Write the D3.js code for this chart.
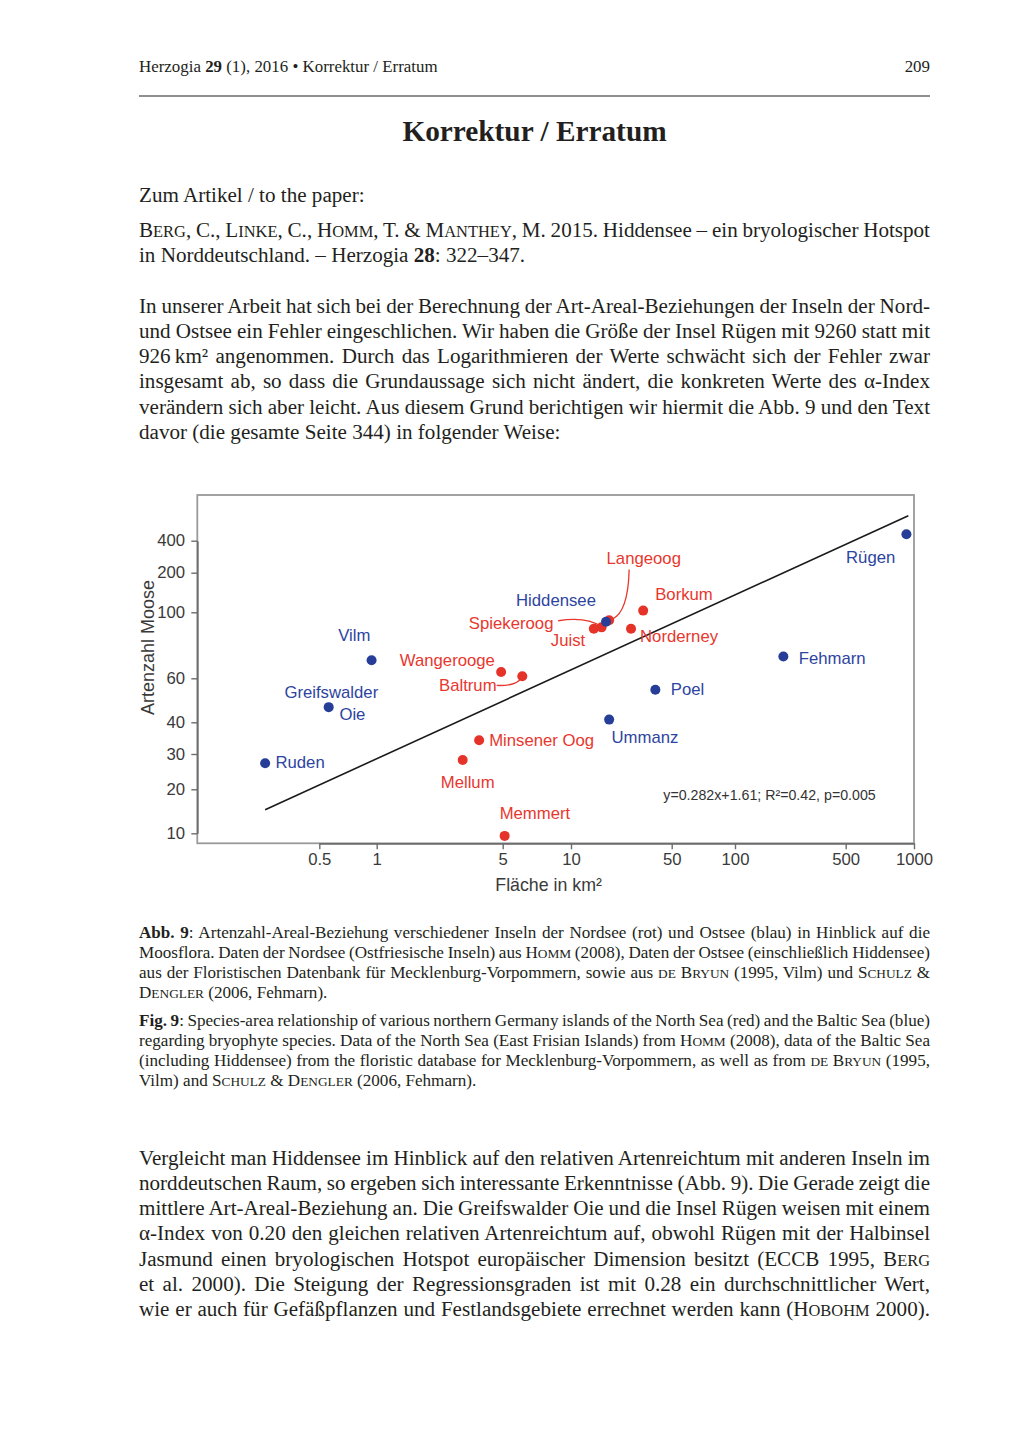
<!DOCTYPE html>
<html><head><meta charset="utf-8">
<script src="https://cdn.jsdelivr.net/npm/d3@7"></script>
<style>html,body{margin:0;padding:0;background:#fff;} svg{display:block}</style>
</head><body>
<script>
// ================= DATA =================
const islands = ["Ruden","Greifswalder Oie","Vilm","Mellum","Minsener Oog","Wangerooge","Memmert","Baltrum","Juist","Spiekeroog","Langeoog","Hiddensee","Ummanz","Norderney","Borkum","Poel","Fehmarn","Rügen"];
const sea = ["Ostsee","Ostsee","Ostsee","Nordsee","Nordsee","Nordsee","Nordsee","Nordsee","Nordsee","Nordsee","Nordsee","Ostsee","Ostsee","Nordsee","Nordsee","Ostsee","Ostsee","Ostsee"];
const areaKm2 = [0.26,0.56,0.94,3.0,3.7,4.9,5.1,6.1,14.4,16.3,18.4,17.5,18.4,26.1,31.7,38.5,202,926];
const mossSpecies = [27,46,69,28,34,63,9.6,61,88,89,94,93,41,88,103,54,71,460];
const xTicks = [0.5,1,5,10,50,100,500,1000];
const yTicks = [10,20,30,40,60,100,200,400];
const regLineX = [0.26, 944];
const regLineY = [14.5, 687];
const equation = "y=0.282x+1.61; R²=0.42, p=0.005";
const xTitle = "Fläche in km²";
const yTitle = "Artenzahl Moose";

// page texts (markup: **bold**, ^^small caps^^)
const headerLeft = "Herzogia **29** (1), 2016 • Korrektur / Erratum";
const headerRight = "209";
const title = "Korrektur / Erratum";
const refLines = [
  ["Zum Artikel / to the paper:", false],
  ["^^Berg^^, C., ^^Linke^^, C., ^^Homm^^, T. & ^^Manthey^^, M. 2015. Hiddensee – ein bryologischer Hotspot", true],
  ["in Norddeutschland. – Herzogia **28**: 322–347.", false]
];
const para2 = [
  ["In unserer Arbeit hat sich bei der Berechnung der Art-Areal-Beziehungen der Inseln der Nord-", true],
  ["und Ostsee ein Fehler eingeschlichen. Wir haben die Größe der Insel Rügen mit 9260 statt mit", true],
  ["926\u2009km² angenommen. Durch das Logarithmieren der Werte schwächt sich der Fehler zwar", true],
  ["insgesamt ab, so dass die Grundaussage sich nicht ändert, die konkreten Werte des α-Index", true],
  ["verändern sich aber leicht. Aus diesem Grund berichtigen wir hiermit die Abb. 9 und den Text", true],
  ["davor (die gesamte Seite 344) in folgender Weise:", false]
];
const captionDe = [
  ["**Abb. 9**: Artenzahl-Areal-Beziehung verschiedener Inseln der Nordsee (rot) und Ostsee (blau) in Hinblick auf die", true],
  ["Moosflora. Daten der Nordsee (Ostfriesische Inseln) aus ^^Homm^^ (2008), Daten der Ostsee (einschließlich Hiddensee)", true],
  ["aus der Floristischen Datenbank für Mecklenburg-Vorpommern, sowie aus ^^de Bryun^^ (1995, Vilm) und ^^Schulz^^ &", true],
  ["^^Dengler^^ (2006, Fehmarn).", false]
];
const captionEn = [
  ["**Fig. 9**: Species-area relationship of various northern Germany islands of the North Sea (red) and the Baltic Sea (blue)", true],
  ["regarding bryophyte species. Data of the North Sea (East Frisian Islands) from ^^Homm^^ (2008), data of the Baltic Sea", true],
  ["(including Hiddensee) from the floristic database for Mecklenburg-Vorpommern, as well as from ^^de Bryun^^ (1995,", true],
  ["Vilm) and ^^Schulz^^ & ^^Dengler^^ (2006, Fehmarn).", false]
];
const paraFinal = [
  ["Vergleicht man Hiddensee im Hinblick auf den relativen Artenreichtum mit anderen Inseln im", true],
  ["norddeutschen Raum, so ergeben sich interessante Erkenntnisse (Abb. 9). Die Gerade zeigt die", true],
  ["mittlere Art-Areal-Beziehung an. Die Greifswalder Oie und die Insel Rügen weisen mit einem", true],
  ["α-Index von 0.20 den gleichen relativen Artenreichtum auf, obwohl Rügen mit der Halbinsel", true],
  ["Jasmund einen bryologischen Hotspot europäischer Dimension besitzt (ECCB 1995, ^^Berg^^", true],
  ["et al. 2000). Die Steigung der Regressionsgraden ist mit 0.28 ein durchschnittlicher Wert,", true],
  ["wie er auch für Gefäßpflanzen und Festlandsgebiete errechnet werden kann (^^Hobohm^^ 2000).", true]
];

// ================= LAYOUT =================
const W = 1020, H = 1439;
const marginL = 139, marginR = 930, textW = marginR - marginL;
const serif = "'Liberation Serif','Times New Roman',serif";
const sans = "'Liberation Sans',Arial,sans-serif";
const RED = "#e6332a", BLUE = "#263e98", RED_T = "#e8372e", BLUE_T = "#2d44a0";
const labelScaleX = 1.045, labelSize = 16;
const bodySize = 21.1, capSize = 17.1, hdrSize = 16.9;

const labelLayout = {
  "Ruden": [{t:"Ruden", dx:10.3, dy:4.9}],
  "Greifswalder Oie": [{t:"Greifswalder", dx:-44.3, dy:-8.8},{t:"Oie", dx:10.7, dy:12.7}],
  "Vilm": [{t:"Vilm", dx:-33.4, dy:-19.5}],
  "Mellum": [{t:"Mellum", dx:-22, dy:27.9}],
  "Minsener Oog": [{t:"Minsener Oog", dx:10, dy:5.7}],
  "Wangerooge": [{t:"Wangerooge", dx:-101.3, dy:-5.5}],
  "Memmert": [{t:"Memmert", dx:-5, dy:-17}],
  "Baltrum": [{t:"Baltrum", dx:-83.3, dy:14.5}],
  "Juist": [{t:"Juist", dx:-43, dy:16.7}],
  "Spiekeroog": [{t:"Spiekeroog", dx:-132.7, dy:1.4}],
  "Hiddensee": [{t:"Hiddensee", dx:-90, dy:-15.3}],
  "Langeoog": [{t:"Langeoog", dx:-2.6, dy:-56}],
  "Ummanz": [{t:"Ummanz", dx:2.4, dy:23.2}],
  "Norderney": [{t:"Norderney", dx:9, dy:13}],
  "Borkum": [{t:"Borkum", dx:12, dy:-11}],
  "Poel": [{t:"Poel", dx:15.4, dy:5.7}],
  "Fehmarn": [{t:"Fehmarn", dx:15.4, dy:7}],
  "Rügen": [{t:"Rügen", dx:-60.4, dy:28.9}]
};
const leaders = {
  "Spiekeroog": [[-43.4,-6.6],[-15,-11],[-1,-1]],
  "Langeoog": [[20,-50.7],[19,-8],[3,-1]],
  "Baltrum": [[-25.6,9.3],[-6,10],[-1,2]]
};

const svg = d3.select("body").append("svg").attr("width", W).attr("height", H)
  .attr("viewBox", `0 0 ${W} ${H}`);
svg.append("rect").attr("width", W).attr("height", H).attr("fill", "#fff");

// ---------- rich text helper ----------
function addRich(sel, str, size){
  const parts = str.split(/(\*\*[^*]+\*\*|\^\^[^^]+\^\^)/).filter(s => s.length);
  parts.forEach(p => {
    if (p.startsWith("**")) {
      sel.append("tspan").attr("font-weight", "bold").text(p.slice(2, -2));
    } else if (p.startsWith("^^")) {
      const s = p.slice(2, -2);
      let buf = "", small = null;
      const flush = () => {
        if (!buf) return;
        const t = sel.append("tspan").text(small ? buf.toUpperCase() : buf);
        if (small) t.attr("font-size", size * 0.78);
        buf = "";
      };
      for (const ch of s) {
        const isSmall = ch !== ch.toUpperCase();
        if (small !== null && isSmall !== small) flush();
        small = isSmall; buf += ch;
      }
      flush();
    } else {
      sel.append("tspan").text(p);
    }
  });
}
function textBlock(lines, y0, lh, size){
  lines.forEach(([str, just], i) => {
    const t = svg.append("text").attr("x", marginL).attr("y", y0 + i * lh)
      .attr("font-family", serif).attr("font-size", size).attr("fill", "#231f20");
    addRich(t, str, size);
    if (just) {
      const node = t.node();
      const nat = node.getComputedTextLength();
      const spaces = (node.textContent.match(/ /g) || []).length;
      if (spaces > 0) t.attr("word-spacing", (textW - nat) / spaces);
      const now = node.getComputedTextLength();
      if (Math.abs(now - textW) > 1.5) { t.attr("word-spacing", null).attr("textLength", textW).attr("lengthAdjust", "spacing"); }
    }
  });
}

// ---------- header ----------
const hdr = svg.append("text").attr("x", marginL).attr("y", 72).attr("font-family", serif)
  .attr("font-size", hdrSize).attr("fill", "#231f20");
addRich(hdr, headerLeft, hdrSize);
svg.append("text").attr("x", marginR).attr("y", 72).attr("text-anchor", "end").attr("font-family", serif)
  .attr("font-size", hdrSize).attr("fill", "#231f20").text(headerRight);
svg.append("line").attr("x1", marginL).attr("x2", marginR).attr("y1", 96).attr("y2", 96)
  .attr("stroke", "#231f20").attr("stroke-width", 1.2);
svg.append("text").attr("x", (marginL + marginR) / 2).attr("y", 140.5).attr("text-anchor", "middle")
  .attr("font-family", serif).attr("font-weight", "bold").attr("font-size", 29.3).attr("fill", "#231f20").text(title);

textBlock(refLines.slice(0,1), 201.5, 25.3, bodySize);
textBlock(refLines.slice(1), 236.5, 25.5, bodySize);
textBlock(para2, 312.5, 25.3, bodySize);
textBlock(captionDe, 937.5, 20.3, capSize);
textBlock(captionEn, 1025.5, 20.3, capSize);
textBlock(paraFinal, 1164.5, 25.3, bodySize);

// ================= CHART =================
const plotL = 197.3, plotR = 914, plotT = 495, plotB = 843.3;
const xPix = [319.3, 376.7, 502.7, 571, 671.7, 735, 845.7, 914];
const yPix = [833.3, 789.3, 754, 722.3, 678.3, 612.3, 572.7, 540.7];
const x = d3.scaleLog().domain(xTicks).range(xPix);
const y = d3.scaleLog().domain(yTicks).range(yPix);

const chart = svg.append("g");
chart.append("rect").attr("x", plotL).attr("y", plotT).attr("width", plotR - plotL).attr("height", plotB - plotT)
  .attr("fill", "none").attr("stroke", "#9a9a9a").attr("stroke-width", 1.8);

const ax = chart.append("g").attr("transform", `translate(0,${plotB})`)
  .call(d3.axisBottom(x).tickValues(xTicks).tickFormat(d => d).tickSize(6).tickSizeOuter(0).tickPadding(4));
const ay = chart.append("g").attr("transform", `translate(${plotL},0)`)
  .call(d3.axisLeft(y).tickValues(yTicks).tickFormat(d => d).tickSize(6).tickSizeOuter(0).tickPadding(5.7));
[ax, ay].forEach(g => {
  g.select(".domain").attr("stroke", "#6d6d6d").attr("stroke-width", 1.7);
  g.selectAll(".tick line").attr("stroke", "#6d6d6d").attr("stroke-width", 1.4);
  g.selectAll(".tick text").attr("font-family", sans).attr("font-size", labelSize).attr("fill", "#3a3a3a")
    .attr("transform", `scale(${labelScaleX},1)`);
});

chart.append("text").attr("x", (plotL + plotR) / 2 - 7).attr("y", 891).attr("text-anchor", "middle")
  .attr("font-family", sans).attr("font-size", 17.8).attr("fill", "#3a3a3a").text(xTitle);
chart.append("text").attr("transform", `translate(154,647.5) rotate(-90)`).attr("text-anchor", "middle")
  .attr("font-family", sans).attr("font-size", 18).attr("fill", "#3a3a3a").text(yTitle);

// regression line
chart.append("path").datum(regLineX.map((v, i) => [v, regLineY[i]]))
  .attr("d", d3.line().x(d => x(d[0])).y(d => y(d[1])))
  .attr("stroke", "#1a1a1a").attr("stroke-width", 1.6).attr("fill", "none");

chart.append("text").attr("transform", `translate(663.3,800) scale(1.03,1)`)
  .attr("font-family", sans).attr("font-size", 13.8).attr("fill", "#333").text(equation);

const pts = islands.map((n, i) => ({name: n, sea: sea[i], a: areaKm2[i], s: mossSpecies[i]}));

// leaders
pts.filter(d => leaders[d.name]).forEach(d => {
  const px = x(d.a), py = y(d.s), L = leaders[d.name];
  const p = d3.path();
  p.moveTo(px + L[0][0], py + L[0][1]);
  p.quadraticCurveTo(px + L[1][0], py + L[1][1], px + L[2][0], py + L[2][1]);
  chart.append("path").attr("d", p.toString()).attr("stroke", RED_T).attr("stroke-width", 1.3).attr("fill", "none");
});

// points: red first, blue on top
const ordered = pts.filter(d => d.sea === "Nordsee").concat(pts.filter(d => d.sea === "Ostsee"));
chart.selectAll("circle.pt").data(ordered).enter().append("circle").attr("class", "pt")
  .attr("cx", d => x(d.a)).attr("cy", d => y(d.s)).attr("r", 5)
  .attr("fill", d => d.sea === "Nordsee" ? RED : BLUE);

// labels
pts.forEach(d => {
  const px = x(d.a), py = y(d.s);
  (labelLayout[d.name] || []).forEach(l => {
    chart.append("text").attr("transform", `translate(${px + l.dx},${py + l.dy}) scale(${labelScaleX},1)`)
      .attr("font-family", sans).attr("font-size", labelSize)
      .attr("fill", d.sea === "Nordsee" ? RED_T : BLUE_T).text(l.t);
  });
});
</script>
</body></html>
